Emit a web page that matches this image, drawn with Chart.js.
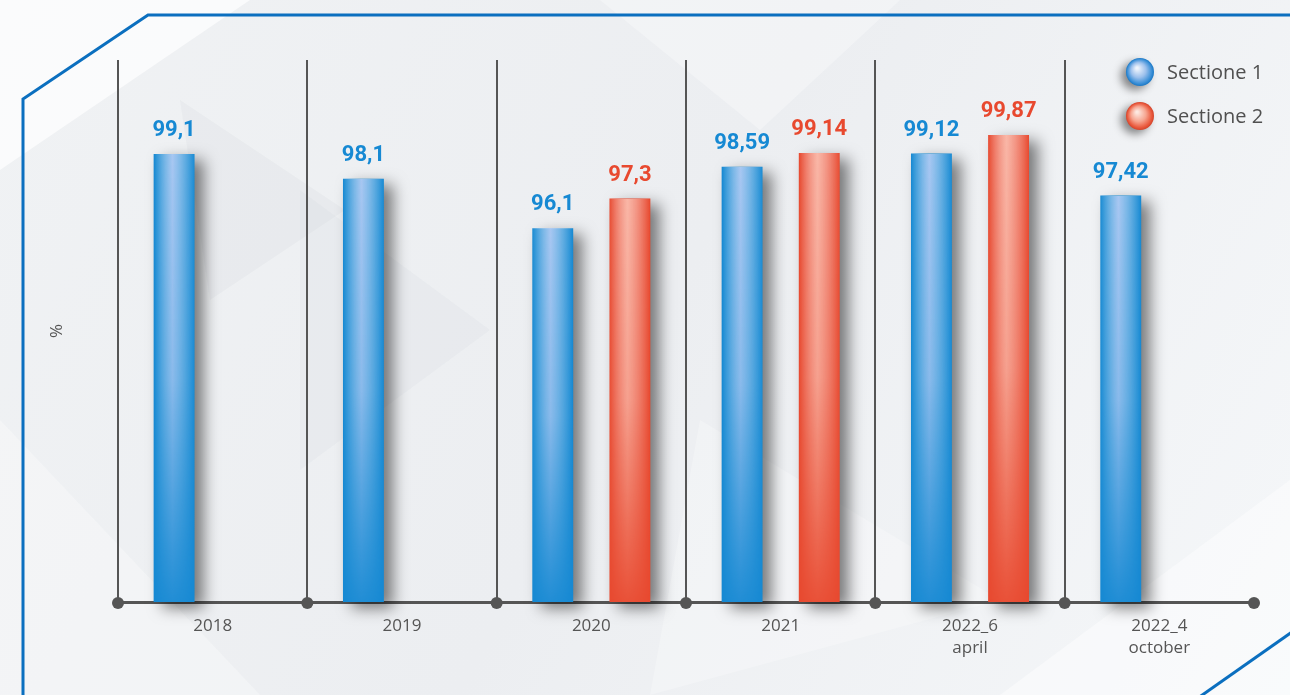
<!DOCTYPE html>
<html>
<head>
<meta charset="utf-8">
<script src="https://cdn.jsdelivr.net/npm/chart.js@4.4.0/dist/chart.umd.min.js"></script>
<style>
  html, body { margin: 0; padding: 0; background: #eef0f3; overflow: hidden; }
  #wrap { position: relative; width: 1290px; height: 695px; }
</style>
</head>
<body>
<div id="wrap"><canvas id="sectionChart"></canvas></div>
<script>
const categories = ['2018', '2019', '2020', '2021', ['2022_6', 'april'], ['2022_4', 'october']];
const section1 = [99.1, 98.1, 96.1, 98.59, 99.12, 97.42];
const section2 = [null, null, 97.3, 99.14, 99.87, null];
const seriesNames = ['Sectione 1', 'Sectione 2'];
const yMin = 81;
const yMax = 102.9;

const INK = '#555555';
const BLUE = '#1689d3';
const RED = '#e8492f';

// background: soft grey facets and the blue frame line
const backdrop = {
  id: 'backdrop',
  beforeDraw(chart) {
    const { ctx, width, height } = chart;
    ctx.save();
    const g = ctx.createLinearGradient(0, 0, width, height);
    g.addColorStop(0, '#f0f2f4');
    g.addColorStop(0.5, '#eceef1');
    g.addColorStop(1, '#f5f7f9');
    ctx.fillStyle = g;
    ctx.fillRect(0, 0, width, height);

    const facets = [
      [[0, 0], [250, 0], [0, 170], 'rgba(255,255,255,0.7)'],
      [[180, 100], [345, 210], [210, 300], 'rgba(205,210,216,0.18)'],
      [[300, 190], [490, 330], [300, 470], 'rgba(205,210,216,0.16)'],
      [[600, 0], [900, 0], [760, 130], 'rgba(255,255,255,0.3)'],
      [[700, 420], [1000, 600], [650, 695], 'rgba(255,255,255,0.25)'],
      [[1000, 695], [1290, 480], [1290, 695], 'rgba(255,255,255,0.45)'],
      [[0, 420], [260, 695], [0, 695], 'rgba(255,255,255,0.3)']
    ];
    facets.forEach(f => {
      ctx.beginPath();
      ctx.moveTo(f[0][0], f[0][1]);
      ctx.lineTo(f[1][0], f[1][1]);
      ctx.lineTo(f[2][0], f[2][1]);
      ctx.closePath();
      ctx.fillStyle = f[3];
      ctx.fill();
    });

    ctx.strokeStyle = '#0b6fbf';
    ctx.lineWidth = 3;
    ctx.beginPath();
    ctx.moveTo(23, 700);
    ctx.lineTo(23, 99);
    ctx.lineTo(148, 15);
    ctx.lineTo(1295, 15);
    ctx.stroke();
    ctx.beginPath();
    ctx.moveTo(1198, 698);
    ctx.lineTo(1292, 632);
    ctx.stroke();
    ctx.restore();
  }
};

// bar shadow, glossy highlight and value labels
const barFx = {
  id: 'barFx',
  beforeDatasetsDraw(chart) {
    const ctx = chart.ctx;
    ctx.save();
    ctx.shadowColor = 'rgba(0,0,0,0.5)';
    ctx.shadowBlur = 15;
    ctx.shadowOffsetX = 9;
    ctx.shadowOffsetY = 6;
  },
  afterDatasetsDraw(chart) {
    const ctx = chart.ctx;
    ctx.restore();
    const glow = ['rgba(200,212,248,0.82)', 'rgba(252,202,188,0.85)'];
    chart.data.datasets.forEach((ds, di) => {
      const meta = chart.getDatasetMeta(di);
      meta.data.forEach((bar, i) => {
        const v = ds.data[i];
        if (v == null) return;
        const { x, y, base, width } = bar.getProps(['x', 'y', 'base', 'width'], true);
        const left = Math.round(x - width / 2);
        const w = Math.round(width);
        const h = Math.round(base - y);
        const off = document.createElement('canvas');
        off.width = w;
        off.height = h;
        const oc = off.getContext('2d');
        const hg = oc.createLinearGradient(0, 0, w, 0);
        hg.addColorStop(0, 'rgba(255,255,255,0)');
        hg.addColorStop(0.45, glow[di]);
        hg.addColorStop(1, 'rgba(255,255,255,0)');
        oc.fillStyle = hg;
        oc.fillRect(0, 0, w, h);
        oc.globalCompositeOperation = 'destination-in';
        const vg = oc.createLinearGradient(0, 0, 0, h);
        vg.addColorStop(0, 'rgba(0,0,0,1)');
        vg.addColorStop(0.5, 'rgba(0,0,0,0.8)');
        vg.addColorStop(1, 'rgba(0,0,0,0.08)');
        oc.fillStyle = vg;
        oc.fillRect(0, 0, w, h);
        ctx.drawImage(off, left, Math.round(y));

        ctx.save();
        ctx.fillStyle = ds.borderColor;
        ctx.font = 'bold 22px Roboto, "Open Sans", sans-serif';
        ctx.textAlign = 'center';
        ctx.textBaseline = 'alphabetic';
        ctx.fillText(String(v).replace('.', ','), x, y - 18);
        ctx.restore();
      });
    });
  }
};

// dots on the baseline and the legend at top right
const decor = {
  id: 'decor',
  afterDraw(chart) {
    const { ctx } = chart;
    const xs = chart.scales.x;
    ctx.save();
    ctx.fillStyle = INK;
    for (let i = 0; i <= categories.length; i++) {
      const px = xs.getPixelForValue(i - 0.5);
      ctx.beginPath();
      ctx.arc(px, xs.top + 1, 6, 0, Math.PI * 2);
      ctx.fill();
    }

    const stops = [
      ['#eef4fc', '#9cc0ec', '#3d91d8', '#1a78c6'],
      ['#fde8e0', '#f6a590', '#ea5b3f', '#d4432a']
    ];
    chart.data.datasets.forEach((ds, di) => {
      const cx = 1140, cy = 72 + di * 44;
      ctx.save();
      ctx.shadowColor = 'rgba(0,0,0,0.45)';
      ctx.shadowBlur = 8;
      ctx.shadowOffsetX = -5;
      ctx.shadowOffsetY = 4;
      const rg = ctx.createRadialGradient(cx - 3, cy - 4, 1, cx, cy, 14);
      rg.addColorStop(0, stops[di][0]);
      rg.addColorStop(0.5, stops[di][1]);
      rg.addColorStop(0.85, stops[di][2]);
      rg.addColorStop(1, stops[di][3]);
      ctx.fillStyle = rg;
      ctx.beginPath();
      ctx.arc(cx, cy, 14, 0, Math.PI * 2);
      ctx.fill();
      ctx.restore();
      ctx.fillStyle = '#505050';
      ctx.font = '20px "Open Sans", sans-serif';
      ctx.textAlign = 'left';
      ctx.textBaseline = 'middle';
      ctx.fillText(ds.label, 1167, cy + 1);
    });
    ctx.restore();
  }
};

const ctx = document.getElementById('sectionChart').getContext('2d');
const chart = new Chart(ctx, {
  type: 'bar',
  data: {
    labels: categories,
    datasets: [
      {
        label: seriesNames[0],
        data: section1,
        base: yMin,
        backgroundColor: BLUE,
        borderColor: BLUE,
        borderWidth: 0,
        clip: false
      },
      {
        label: seriesNames[1],
        data: section2,
        base: yMin,
        backgroundColor: RED,
        borderColor: RED,
        borderWidth: 0,
        clip: false
      }
    ]
  },
  options: {
    responsive: true,
    maintainAspectRatio: false,
    animation: false,
    categoryPercentage: 0.815,
    barPercentage: 0.53,
    layout: { padding: { left: 0, right: 36, top: 60, bottom: 0 } },
    plugins: {
      legend: { display: false },
      tooltip: { enabled: false }
    },
    scales: {
      x: {
        grid: {
          offset: true,
          drawTicks: false,
          lineWidth: 2,
          color: c => (c.index === undefined ? 'rgba(0,0,0,0)' : INK)
        },
        border: { color: INK, width: 3 },
        ticks: {
          color: INK,
          padding: 13,
          font: { family: '"Open Sans", sans-serif', size: 17, lineHeight: 1.3 }
        },
        afterFit: s => { s.height = 93; }
      },
      y: {
        min: yMin,
        max: yMax,
        grid: { display: false },
        border: { display: false },
        ticks: { display: false },
        title: {
          display: true,
          text: '%',
          color: INK,
          padding: { top: 47, bottom: 0 },
          font: { family: '"Open Sans", sans-serif', size: 17 }
        },
        afterFit: s => { s.width = 118; }
      }
    }
  },
  plugins: [backdrop, barFx, decor]
});
</script>
</body>
</html>
